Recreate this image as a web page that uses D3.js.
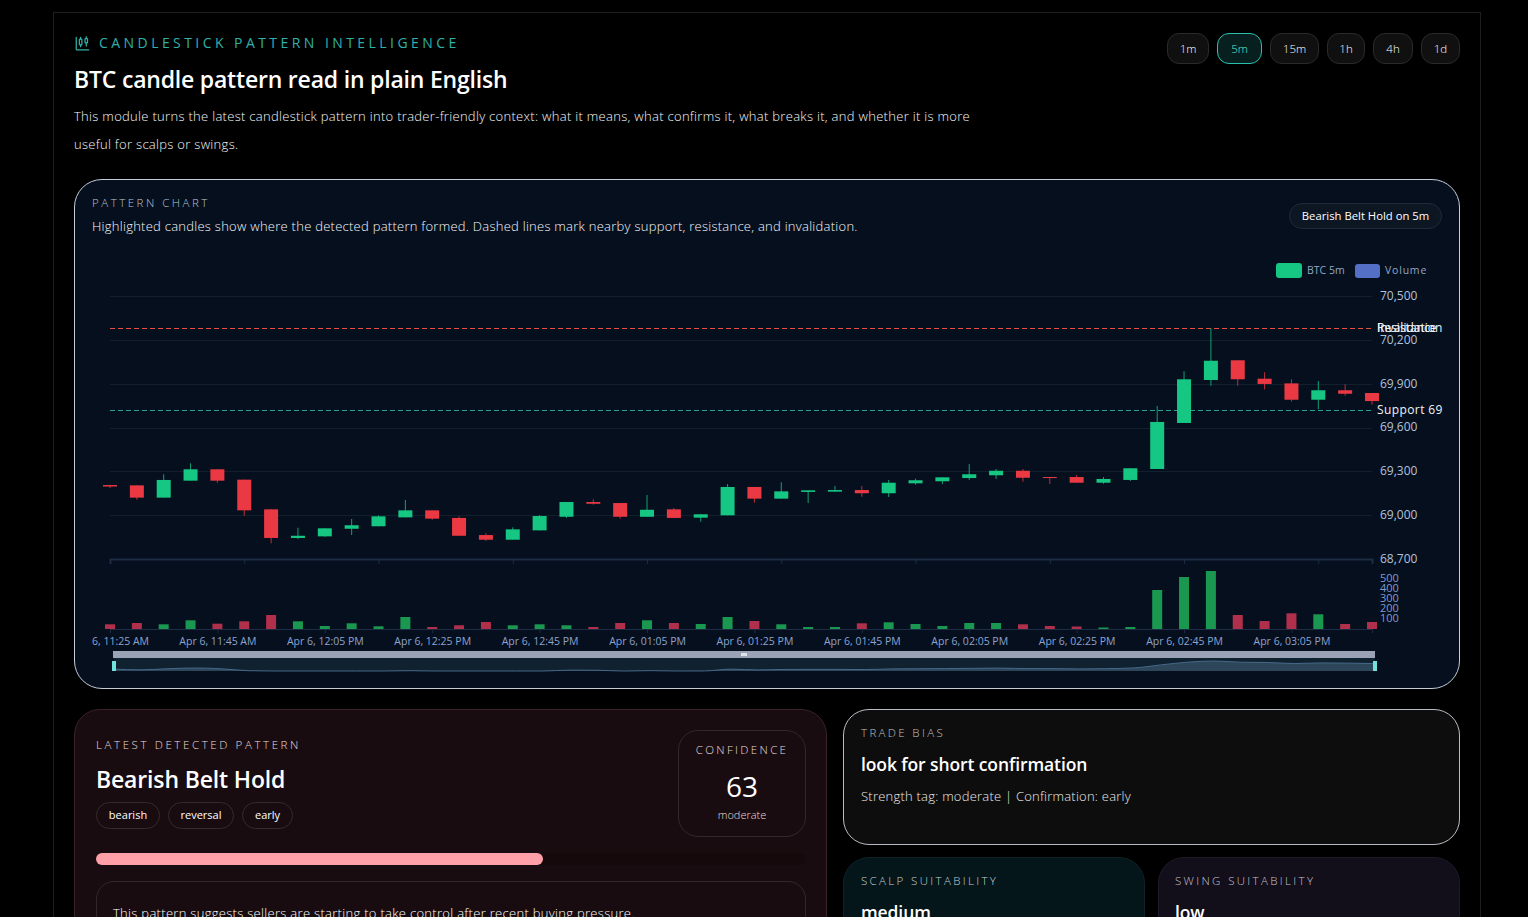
<!DOCTYPE html>
<html lang="en">
<head>
<meta charset="utf-8">
<title>BTC candle pattern</title>
<script src="https://cdn.jsdelivr.net/npm/d3@7"></script>
<style>
    * { box-sizing: border-box; }
    html, body { margin: 0; height: 917px; overflow: hidden; background: #000; color: #fff; font-family: "Open Sans", sans-serif; }
    .abs { position: absolute; white-space: nowrap; line-height: 1; }
    .box { position: absolute; }
    .shell { left: 53px; top: 12px; width: 1428px; height: 1000px; border: 1px solid #1e1e1e; }
    .eyebrow { left: 99px; top: 36px; font-size: 14px; font-weight: 500; letter-spacing: 3.44px; color: #30b0aa; }
    h1 { margin: 0; left: 74px; top: 68px; font-size: 23px; font-weight: 600; letter-spacing: -0.2px; }
    .intro { left: 74px; font-size: 13px; font-weight: 300; letter-spacing: 0.3px; color: #f6f8fb; }
    .btn { position: absolute; top: 33px; height: 31px; border-radius: 12px; border: 1px solid #2a2a2a; background: #101010; font-size: 11.5px; font-weight: 300; color: #fff; text-align: center; line-height: 29px; }
    .btn.on { border-color: #2bbfae; background: #07201f; color: #5eead4; }
    .chart-panel { left: 74px; top: 179px; width: 1386px; height: 510px; border-radius: 28px; border: 1px solid #c4ccd8; background: #050f1e; }
    .label { font-size: 11.5px; font-weight: 300; letter-spacing: 2.35px; }
    .pill { left: 1289px; top: 203px; width: 153px; height: 26px; border-radius: 13px; border: 1px solid #1f2a38; background: #0d1724; font-size: 11.3px; line-height: 24px; text-align: center; }
    .pattern-panel { left: 74px; top: 709px; width: 753px; height: 300px; border-radius: 26px; border: 1px solid #3a2226; background: #190c10; }
    .tag { position: absolute; top: 802px; height: 27px; border-radius: 14px; border: 1px solid #352a2c; font-size: 11px; line-height: 24px; text-align: center; }
    .conf { left: 678px; top: 730px; width: 128px; height: 107px; border-radius: 20px; border: 1px solid #33272a; }
    .meter { left: 96px; top: 853px; width: 710px; height: 12px; border-radius: 6px; background: #15090c; }
    .meter-fill { left: 96px; top: 853px; width: 447px; height: 12px; border-radius: 6px; background: #ff9fa8; }
    .note { left: 96px; top: 881px; width: 710px; height: 120px; border-radius: 18px; border: 1px solid #33272a; }
    .bias-panel { left: 843px; top: 709px; width: 617px; height: 136px; border-radius: 26px; border: 1px solid #b8bcc4; background: #0d0d0d; }
    .scalp-panel { left: 843px; top: 857px; width: 302px; height: 140px; border-radius: 26px; border: 1px solid #0e2228; background: #04161a; }
    .swing-panel { left: 1158px; top: 857px; width: 302px; height: 140px; border-radius: 26px; border: 1px solid #1e1a28; background: #120e1a; }
    .big { font-size: 17.5px; font-weight: 600; letter-spacing: -0.1px; }
    svg#chart { position: absolute; left: 0; top: 0; }
    svg#chart text { font-family: "Open Sans", sans-serif; }
</style>
</head>
<body>
<div class="box shell"></div>

<svg class="abs" style="left:75px;top:36px" width="15" height="15" viewBox="0 0 24 24" fill="none" stroke="#30b0aa" stroke-width="2" stroke-linecap="round">
    <path d="M2 2v19a1 1 0 0 0 1 1h19"/><rect x="7" y="5" width="4" height="9" rx="1"/><path d="M9 2v3M9 14v3"/><rect x="16" y="4" width="4" height="7" rx="1"/><path d="M18 1v3M18 11v5"/>
</svg>
<div class="abs eyebrow">CANDLESTICK PATTERN INTELLIGENCE</div>
<h1 class="abs">BTC candle pattern read in plain English</h1>
<div class="abs intro" style="top:110px">This module turns the latest candlestick pattern into trader-friendly context: what it means, what confirms it, what breaks it, and whether it is more</div>
<div class="abs intro" style="top:138px">useful for scalps or swings.</div>
<div id="buttons"></div>

<div class="box chart-panel"></div>
<div class="abs label" style="left:92px;top:197px;letter-spacing:2.5px;color:#b8c4d2">PATTERN CHART</div>
<div class="abs" style="left:92px;top:220px;font-size:13px;font-weight:300;letter-spacing:0.26px;color:#f6f8fc">Highlighted candles show where the detected pattern formed. Dashed lines mark nearby support, resistance, and invalidation.</div>
<div class="abs pill">Bearish Belt Hold on 5m</div>
<svg id="chart" width="1528" height="917"></svg>

<div class="box pattern-panel"></div>
<div class="abs label" style="left:96px;top:739px;letter-spacing:2.6px;color:#e6dcdc">LATEST DETECTED PATTERN</div>
<div class="abs" style="left:96px;top:768px;font-size:23px;font-weight:600;letter-spacing:-0.15px">Bearish Belt Hold</div>
<div id="tags"></div>
<div class="box conf"></div>
<div class="abs label" style="left:678px;width:128px;top:744px;text-align:center;color:#e6dcdc">CONFIDENCE</div>
<div class="abs" style="left:678px;width:128px;top:772px;font-size:28px;font-weight:500;text-align:center">63</div>
<div class="abs" style="left:678px;width:128px;top:809px;font-size:11px;font-weight:300;text-align:center;color:#e6dcdc">moderate</div>
<div class="box meter"></div>
<div class="box meter-fill"></div>
<div class="box note"></div>
<div class="abs" style="left:113px;top:907px;font-size:13px;font-weight:300;letter-spacing:0.3px">This pattern suggests sellers are starting to take control after recent buying pressure.</div>

<div class="box bias-panel"></div>
<div class="abs label" style="left:861px;top:727px;color:#c0c0c0">TRADE BIAS</div>
<div class="abs big" style="left:861px;top:756px">look for short confirmation</div>
<div class="abs" style="left:861px;top:790px;font-size:13px;font-weight:300;letter-spacing:0.23px;color:#ececec">Strength tag: moderate | Confirmation: early</div>
<div class="box scalp-panel"></div>
<div class="abs label" style="left:861px;top:875px;color:#c0d0d8">SCALP SUITABILITY</div>
<div class="abs big" style="left:861px;top:904px">medium</div>
<div class="box swing-panel"></div>
<div class="abs label" style="left:1175px;top:875px;color:#c6c2d0">SWING SUITABILITY</div>
<div class="abs big" style="left:1175px;top:904px">low</div>

<script>
// ============================================================
// Data
// ============================================================
const candleTimes = [
    '11:25', '11:30', '11:35', '11:40', '11:45', '11:50', '11:55', '12:00',
    '12:05', '12:10', '12:15', '12:20', '12:25', '12:30', '12:35', '12:40',
    '12:45', '12:50', '12:55', '13:00', '13:05', '13:10', '13:15', '13:20',
    '13:25', '13:30', '13:35', '13:40', '13:45', '13:50', '13:55', '14:00',
    '14:05', '14:10', '14:15', '14:20', '14:25', '14:30', '14:35', '14:40',
    '14:45', '14:50', '14:55', '15:00', '15:05', '15:10', '15:15', '15:20'
];
const opens = [
    69206, 69204, 69120, 69236, 69314, 69243, 69040, 68844,
    68855, 68907, 68924, 68985, 69033, 68981, 68864, 68832,
    68896, 68989, 69090, 69083, 68989, 69040, 68983, 68999,
    69193, 69113, 69159, 69161, 69172, 69150, 69218, 69232,
    69254, 69273, 69304, 69261, 69261, 69222, 69241, 69316,
    69631, 69925, 70060, 69934, 69902, 69790, 69855, 69836
];
const highs = [
    69206, 69204, 69280, 69355, 69314, 69243, 69040, 68914,
    68910, 68974, 68999, 69104, 69033, 68992, 68876, 68917,
    69001, 69090, 69109, 69083, 69138, 69049, 69006, 69213,
    69193, 69225, 69170, 69200, 69200, 69241, 69250, 69259,
    69350, 69316, 69316, 69261, 69275, 69261, 69321, 69747,
    69985, 70279, 70060, 69978, 69930, 69918, 69896, 69836
];
const lows = [
    69186, 69106, 69120, 69236, 69222, 68996, 68807, 68837,
    68852, 68864, 68924, 68985, 68969, 68859, 68823, 68832,
    68896, 68981, 69072, 68976, 68989, 68981, 68955, 68999,
    69085, 69113, 69083, 69159, 69126, 69124, 69209, 69213,
    69241, 69248, 69229, 69213, 69222, 69215, 69234, 69316,
    69631, 69886, 69886, 69861, 69777, 69725, 69818, 69756
];
const closes = [
    69196, 69120, 69241, 69314, 69236, 69033, 68844, 68859,
    68910, 68931, 68992, 69033, 68976, 68859, 68832, 68903,
    68994, 69090, 69078, 68989, 69037, 68981, 69006, 69193,
    69113, 69163, 69170, 69172, 69150, 69222, 69239, 69259,
    69280, 69304, 69256, 69254, 69222, 69248, 69321, 69638,
    69930, 70057, 69930, 69898, 69790, 69855, 69831, 69781
];
const volumes = [
    47, 60, 47, 87, 53, 77, 140, 77, 30, 57, 27, 120,
    20, 37, 70, 37, 47, 37, 20, 60, 87, 60, 50, 120,
    80, 47, 20, 20, 57, 67, 50, 30, 60, 60, 47, 30,
    25, 15, 20, 390, 520, 580, 140, 80, 157, 147, 50, 70
];

const priceTicks = [68700, 69000, 69300, 69600, 69900, 70200, 70500];
const volumeTicks = [100, 200, 300, 400, 500];

const levelNames = ['Resistance', 'Invalidation', 'Support 69'];
const levelValues = [70280, 70280, 69723];
const levelColors = ['#f59e0b', '#ef4444', '#2dd4bf'];

const intervals = ['1m', '5m', '15m', '1h', '4h', '1d'];
const patternTags = ['bearish', 'reversal', 'early'];

// ============================================================
// Colors
// ============================================================
const COLORS = {
    up: '#16c784',
    down: '#ea3943',
    upVolume: '#1a9850',
    downVolume: '#b0304b',
    grid: '#11202c',
    axis: '#1d2d45',
    priceLabel: '#b2c2dc',
    volumeLabel: '#7f9bd0',
    timeLabel: '#8ea3cf',
    legendVolume: '#5470c6'
};

// ============================================================
// Small HTML bits
// ============================================================
const buttonBoxes = [[1167, 42], [1217, 45], [1270, 49], [1327, 38], [1373, 40], [1421, 39]];
d3.select('#buttons').selectAll('div')
    .data(intervals)
    .join('div')
    .attr('class', d => d === '5m' ? 'btn on' : 'btn')
    .style('left', (d, i) => buttonBoxes[i][0] + 'px')
    .style('width', (d, i) => buttonBoxes[i][1] + 'px')
    .text(d => d);

const tagBoxes = [[96, 64], [168, 66], [242, 51]];
d3.select('#tags').selectAll('div')
    .data(patternTags)
    .join('div')
    .attr('class', 'tag')
    .style('left', (d, i) => tagBoxes[i][0] + 'px')
    .style('width', (d, i) => tagBoxes[i][1] + 'px')
    .text(d => d);

// ============================================================
// Scales
// ============================================================
const parseTime = t => d3.timeParse('%Y-%m-%d %H:%M')('2026-04-06 ' + t);
const times = candleTimes.map(parseTime);

const plotLeft = 110;
const plotRight = 1372;

const x = d3.scaleTime().domain(d3.extent(times)).range([plotLeft, plotRight]);
const yPrice = d3.scaleLinear().domain([68700, 70500]).range([559, 296]);
const yVolume = d3.scaleLinear().domain([0, 500]).range([629, 579]);
const crisp = v => Math.round(v) + 0.5;

const svg = d3.select('#chart');
const defs = svg.append('defs');

// ============================================================
// Price axes and grid
// ============================================================
svg.append('g')
    .selectAll('line')
    .data(priceTicks.slice(1))
    .join('line')
    .attr('x1', plotLeft).attr('x2', plotRight)
    .attr('y1', d => crisp(yPrice(d))).attr('y2', d => crisp(yPrice(d)))
    .attr('stroke', COLORS.grid);

const priceAxis = svg.append('g')
    .attr('transform', `translate(${plotRight}, -0.5)`)
    .call(d3.axisRight(yPrice).tickValues(priceTicks).tickFormat(d3.format(',')).tickSize(0).tickPadding(8));
priceAxis.select('.domain').remove();
priceAxis.selectAll('text').attr('fill', COLORS.priceLabel).style('font-size', '12px');

const upperAxis = svg.append('g')
    .attr('transform', `translate(0, ${yPrice(68700)})`)
    .call(d3.axisBottom(x).tickValues(times.filter((d, i) => i % 5 === 0)).tickSize(5).tickFormat(''));
upperAxis.select('.domain').attr('stroke', COLORS.axis).attr('stroke-width', 2);
upperAxis.selectAll('line').attr('stroke', COLORS.axis);

// ============================================================
// Levels
// ============================================================
svg.append('g')
    .selectAll('line')
    .data(levelValues)
    .join('line')
    .attr('x1', plotLeft).attr('x2', plotRight)
    .attr('y1', d => crisp(yPrice(d))).attr('y2', d => crisp(yPrice(d)))
    .attr('stroke', (d, i) => levelColors[i])
    .attr('stroke-opacity', 0.75)
    .attr('stroke-dasharray', '5 3');

svg.append('g')
    .selectAll('text')
    .data(levelNames)
    .join('text')
    .attr('x', plotRight + 5)
    .attr('y', (d, i) => yPrice(levelValues[i]) + 4)
    .attr('fill', '#f1f5f9')
    .style('font-size', '12px')
    .style('letter-spacing', d => d === 'Support 69' ? '0.4px' : null)
    .text(d => d);

// ============================================================
// Candles
// ============================================================
const candles = svg.append('g')
    .selectAll('g')
    .data(times)
    .join('g');

candles.append('line')
    .attr('x1', d => x(d)).attr('x2', d => x(d))
    .attr('y1', (d, i) => yPrice(highs[i]))
    .attr('y2', (d, i) => yPrice(lows[i]))
    .attr('stroke', (d, i) => closes[i] >= opens[i] ? COLORS.up : COLORS.down)
    .attr('stroke-opacity', 0.8);

candles.append('rect')
    .attr('x', d => x(d) - 7)
    .attr('width', 14)
    .attr('y', (d, i) => yPrice(Math.max(opens[i], closes[i])))
    .attr('height', (d, i) => Math.abs(yPrice(opens[i]) - yPrice(closes[i])))
    .attr('fill', (d, i) => closes[i] >= opens[i] ? COLORS.up : COLORS.down);

// ============================================================
// Volume
// ============================================================
svg.append('g')
    .selectAll('rect')
    .data(times)
    .join('rect')
    .attr('x', d => x(d) - 5)
    .attr('width', 10)
    .attr('y', (d, i) => yVolume(volumes[i]))
    .attr('height', (d, i) => yVolume(0) - yVolume(volumes[i]))
    .attr('fill', (d, i) => closes[i] >= opens[i] ? COLORS.upVolume : COLORS.downVolume);

const volumeAxis = svg.append('g')
    .attr('transform', `translate(${plotRight}, -1)`)
    .call(d3.axisRight(yVolume).tickValues(volumeTicks).tickSize(0).tickPadding(8));
volumeAxis.select('.domain').remove();
volumeAxis.selectAll('text').attr('fill', COLORS.volumeLabel).style('font-size', '11px');

const timeFormat = d3.timeFormat('%b %-d, %I:%M %p');
const lowerAxis = svg.append('g')
    .attr('transform', `translate(0, ${yVolume(0)})`)
    .call(d3.axisBottom(x).tickValues(times.filter((d, i) => i % 4 === 0)).tickSize(4).tickPadding(5).tickFormat(timeFormat));
lowerAxis.select('.domain').attr('stroke', COLORS.axis);
lowerAxis.selectAll('line').attr('stroke', COLORS.axis);
lowerAxis.selectAll('text').attr('fill', COLORS.timeLabel).style('font-size', '10.5px');

// first label runs under the panel padding, so only its right part shows
defs.append('clipPath')
    .attr('id', 'first-label')
    .append('rect')
    .attr('x', -19).attr('y', 0).attr('width', 120).attr('height', 20);
lowerAxis.selectAll('.tick').filter((d, i) => i === 0).select('text')
    .attr('clip-path', 'url(#first-label)');

// ============================================================
// Legend
// ============================================================
const legendItems = [
    { label: 'BTC 5m', color: COLORS.up, x: 1276, width: 26, y: 263, height: 15, spacing: 0 },
    { label: 'Volume', color: COLORS.legendVolume, x: 1355, width: 25, y: 264, height: 14, spacing: 0.8 }
];
legendItems.forEach(item => {
    svg.append('rect')
        .attr('x', item.x).attr('y', item.y)
        .attr('width', item.width).attr('height', item.height)
        .attr('rx', 3)
        .attr('fill', item.color);
    svg.append('text')
        .attr('x', item.x + item.width + 5)
        .attr('y', 274)
        .attr('fill', '#94a6c4')
        .style('font-size', '10.5px')
        .style('letter-spacing', item.spacing + 'px')
        .text(item.label);
});

// ============================================================
// Zoom slider
// ============================================================
const sliderLeft = 114;
const sliderRight = 1375;
const sliderX = d3.scaleTime().domain(d3.extent(times)).range([sliderLeft, sliderRight]);
const sliderY = d3.scaleLinear().domain([69000, d3.max(closes)]).range([671, 661]).clamp(true);

svg.append('rect')
    .attr('x', sliderLeft - 1).attr('y', 651)
    .attr('width', sliderRight - sliderLeft + 1).attr('height', 7)
    .attr('fill', '#9aa3b5');
svg.append('rect')
    .attr('x', 741).attr('y', 653)
    .attr('width', 6).attr('height', 3)
    .attr('fill', '#dfe3ea');
svg.append('rect')
    .attr('x', sliderLeft).attr('y', 658)
    .attr('width', sliderRight - sliderLeft).attr('height', 13)
    .attr('fill', '#10222f');

const sliderArea = d3.area()
    .x((d, i) => sliderX(times[i]))
    .y0(671)
    .y1(d => sliderY(d))
    .curve(d3.curveMonotoneX);
const sliderLine = d3.line()
    .x((d, i) => sliderX(times[i]))
    .y(d => sliderY(d))
    .curve(d3.curveMonotoneX);

svg.append('path').attr('d', sliderArea(closes)).attr('fill', '#2d465a');
svg.append('path').attr('d', sliderLine(closes)).attr('fill', 'none').attr('stroke', '#47688a');

svg.append('g')
    .selectAll('rect')
    .data([sliderLeft, sliderRight])
    .join('rect')
    .attr('x', d => d - 2).attr('y', 661)
    .attr('width', 4).attr('height', 10)
    .attr('fill', '#6fe3dc');
</script>
</body>
</html>
